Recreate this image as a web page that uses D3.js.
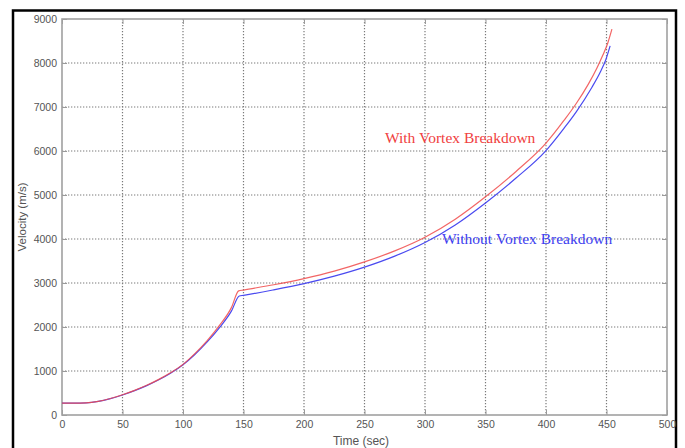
<!DOCTYPE html>
<html>
<head>
<meta charset="utf-8">
<script src="https://cdn.jsdelivr.net/npm/d3@7"></script>
<style>
  body { margin: 0; background: #fff; }
  svg { display: block; }
</style>
</head>
<body>
<div class="chart"></div>
<script>
// Velocity vs time, two runs

var xTicks = [0, 50, 100, 150, 200, 250, 300, 350, 400, 450, 500];
var yTicks = [0, 1000, 2000, 3000, 4000, 5000, 6000, 7000, 8000, 9000];

// with vortex breakdown (red)
var redTime = [0, 10, 20, 30, 40, 50, 60, 70, 80, 90, 100, 110, 120, 130, 140, 146,
    150, 175, 200, 225, 250, 275, 300, 325, 350, 375, 400, 415, 425, 435, 442, 447, 451, 454.5];
var redVel = [270, 270, 275, 310, 375, 460, 560, 675, 810, 965, 1150, 1400, 1690, 2030, 2440, 2820,
    2840, 2960, 3100, 3270, 3480, 3730, 4040, 4450, 4960, 5530, 6180, 6700, 7080, 7520, 7880, 8180, 8450, 8770];

// without vortex breakdown (blue)
var blueTime = [0, 10, 20, 30, 40, 50, 60, 70, 80, 90, 100, 110, 120, 130, 140, 146.5,
    150, 175, 200, 225, 250, 275, 300, 325, 350, 375, 400, 415, 425, 438, 445, 449.5, 453];
var blueVel = [270, 270, 275, 308, 372, 455, 553, 667, 800, 955, 1140, 1380, 1660, 1980, 2360, 2705,
    2720, 2845, 2985, 3155, 3360, 3610, 3920, 4320, 4820, 5380, 6010, 6520, 6890, 7450, 7800, 8080, 8390];

var labelRed = "With Vortex Breakdown";
var labelBlue = "Without Vortex Breakdown";

var svgWidth = 685;
var svgHeight = 448;
var margin = { top: 19, right: 18, bottom: 33, left: 62 };
var width = 667 - margin.left;
var height = 415 - margin.top;

var svg = d3.select(".chart")
    .append("svg")
    .attr("width", svgWidth)
    .attr("height", svgHeight);

// outer black frame
svg.append("path")
    .attr("d", "M13,460 V10.5 H676 V460")
    .attr("fill", "none")
    .attr("stroke", "#000")
    .attr("stroke-width", 2.5);

var chartGroup = svg.append("g")
    .attr("transform", `translate(${margin.left}, ${margin.top})`);

var x = d3.scaleLinear().domain([0, 500]).range([0, width]);
var y = d3.scaleLinear().domain([0, 9000]).range([height, 0]);

// dotted grid
var grid = chartGroup.append("g").attr("class", "grid");

grid.selectAll("line.gx")
    .data(xTicks.slice(1, -1))
    .enter()
    .append("line")
    .attr("x1", d => x(d)).attr("x2", d => x(d))
    .attr("y1", 0).attr("y2", height);

grid.selectAll("line.gy")
    .data(yTicks.slice(1, -1))
    .enter()
    .append("line")
    .attr("x1", 0).attr("x2", width)
    .attr("y1", d => y(d)).attr("y2", d => y(d));

grid.selectAll("line")
    .attr("stroke", "#7a7a7a")
    .attr("stroke-width", 1.2)
    .attr("stroke-dasharray", "1.3,1.7");

// axes
var bottomAxis = d3.axisBottom(x).tickValues(xTicks).tickSize(-5).tickPadding(6).tickFormat(d3.format("d"));
var leftAxis = d3.axisLeft(y).tickValues(yTicks).tickSize(-5).tickPadding(5).tickFormat(d3.format("d"));
var topAxis = d3.axisTop(x).tickValues(xTicks).tickSize(-5).tickFormat("");
var rightAxis = d3.axisRight(y).tickValues(yTicks).tickSize(-5).tickFormat("");

chartGroup.append("g").attr("class", "axis").attr("transform", `translate(0, ${height})`).call(bottomAxis);
chartGroup.append("g").attr("class", "axis").call(leftAxis);
chartGroup.append("g").attr("class", "axis").call(topAxis);
chartGroup.append("g").attr("class", "axis").attr("transform", `translate(${width}, 0)`).call(rightAxis);

chartGroup.selectAll(".axis .domain").remove();
chartGroup.selectAll(".axis line").attr("stroke", "#9a9a9a");
chartGroup.selectAll(".axis text")
    .attr("fill", "#555")
    .style("font-family", "'Liberation Sans', Arial, sans-serif")
    .style("font-size", "10.5px");

// plot box
chartGroup.append("rect")
    .attr("x", 0).attr("y", 0)
    .attr("width", width).attr("height", height)
    .attr("fill", "none")
    .attr("stroke", "#a0a0a0")
    .attr("stroke-width", 1.6);

// curves
var line = d3.line()
    .x(d => x(d[0]))
    .y(d => y(d[1]))
    .curve(d3.curveMonotoneX);

chartGroup.append("path")
    .datum(d3.zip(blueTime, blueVel))
    .attr("d", line)
    .attr("fill", "none")
    .attr("stroke", "#4a4af0")
    .attr("stroke-width", 1.2);

chartGroup.append("path")
    .datum(d3.zip(redTime, redVel))
    .attr("d", line)
    .attr("fill", "none")
    .attr("stroke", "#f04a4a")
    .attr("stroke-width", 1.2)
    .attr("opacity", 0.85);

// curve labels
chartGroup.append("text")
    .attr("x", 385 - margin.left)
    .attr("y", 143 - margin.top)
    .attr("fill", "#f04040")
    .style("font-family", "'Liberation Serif', 'Times New Roman', serif")
    .style("font-size", "15.5px")
    .text(labelRed);

chartGroup.append("text")
    .attr("x", 442 - margin.left)
    .attr("y", 244 - margin.top)
    .attr("fill", "#4040f0")
    .style("font-family", "'Liberation Serif', 'Times New Roman', serif")
    .style("font-size", "15.5px")
    .text(labelBlue);

// axis titles
svg.append("text")
    .attr("x", 361)
    .attr("y", 445)
    .attr("text-anchor", "middle")
    .attr("fill", "#555")
    .style("font-family", "'Liberation Sans', Arial, sans-serif")
    .style("font-size", "12px")
    .text("Time (sec)");

svg.append("text")
    .attr("transform", "translate(26, 217) rotate(-90)")
    .attr("text-anchor", "middle")
    .attr("fill", "#555")
    .style("font-family", "'Liberation Sans', Arial, sans-serif")
    .style("font-size", "11.5px")
    .text("Velocity (m/s)");
</script>
</body>
</html>
